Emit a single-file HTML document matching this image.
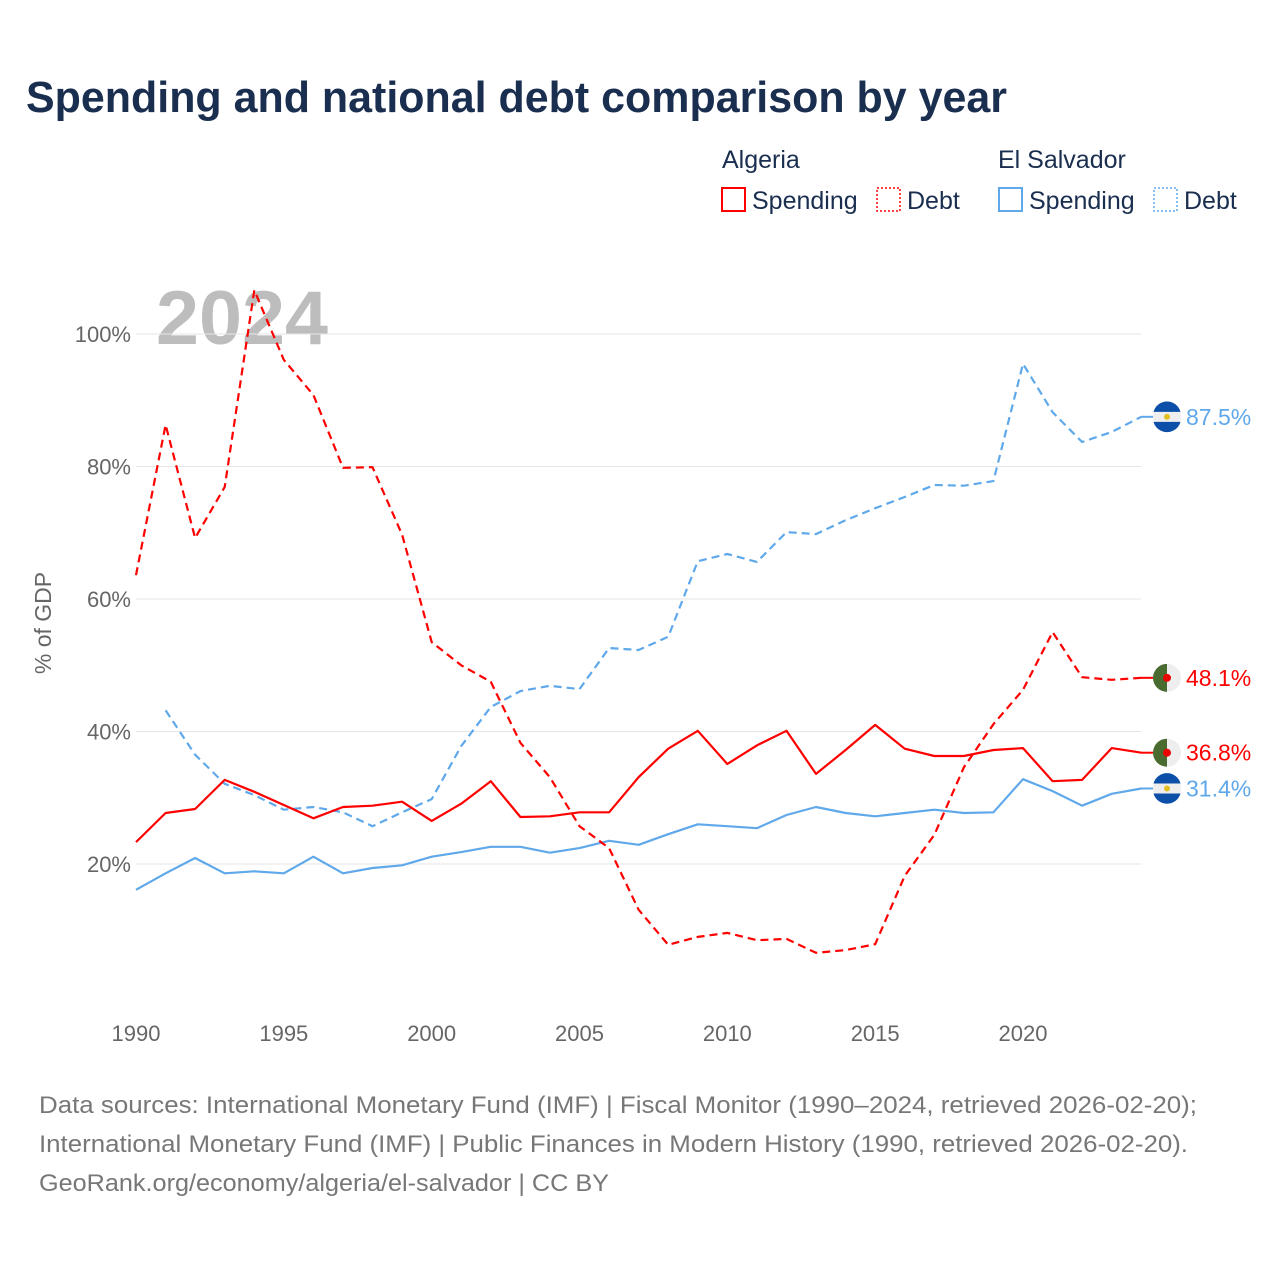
<!DOCTYPE html>
<html><head><meta charset="utf-8"><style>
body{margin:0;background:#fff;font-family:"Liberation Sans",sans-serif}
#wrap{position:relative;width:1280px;height:1280px;overflow:hidden}
</style></head><body>
<div id="wrap">
<svg id="chart" width="1280" height="1280" xmlns="http://www.w3.org/2000/svg">
<text x="26" y="112" font-size="44" font-weight="bold" fill="#1a2e4f" textLength="981" lengthAdjust="spacingAndGlyphs">Spending and national debt comparison by year</text>
<g font-size="25" fill="#1a2e4f">
<text x="722" y="168">Algeria</text>
<text x="998" y="168">El Salvador</text>
<g><rect x="722" y="188" width="23" height="23" fill="none" stroke="#ff0000" stroke-width="2"/><text x="752" y="209">Spending</text></g>
<g><rect x="877" y="188" width="23" height="23" fill="none" stroke="#ff0000" stroke-width="1.5" stroke-dasharray="2,2"/><text x="907" y="209">Debt</text></g>
<g><rect x="999" y="188" width="23" height="23" fill="none" stroke="#5fa8ea" stroke-width="2"/><text x="1029" y="209">Spending</text></g>
<g><rect x="1154" y="188" width="23" height="23" fill="none" stroke="#5fa8ea" stroke-width="1.5" stroke-dasharray="2,2"/><text x="1184" y="209">Debt</text></g>
</g>
<text x="156" y="344" font-size="76" font-weight="bold" fill="#bdbdbd" textLength="172" lengthAdjust="spacingAndGlyphs">2024</text>
<g id="grid"></g>
<g id="yaxis"></g>
<g id="xaxis"></g>
<text transform="translate(51,623) rotate(-90)" text-anchor="middle" font-size="23" fill="#666">% of GDP</text>
<g id="series"></g>
<g id="labels"></g>
<g font-size="24" fill="#777">
<text x="39" y="1113" textLength="1158" lengthAdjust="spacingAndGlyphs">Data sources: International Monetary Fund (IMF) | Fiscal Monitor (1990–2024, retrieved 2026-02-20);</text>
<text x="39" y="1152" textLength="1149" lengthAdjust="spacingAndGlyphs">International Monetary Fund (IMF) | Public Finances in Modern History (1990, retrieved 2026-02-20).</text>
<text x="39" y="1191" textLength="570" lengthAdjust="spacingAndGlyphs">GeoRank.org/economy/algeria/el-salvador | CC BY</text>
</g>
</svg>
</div>
<script>
const years=[1990,1991,1992,1993,1994,1995,1996,1997,1998,1999,2000,2001,2002,2003,2004,2005,2006,2007,2008,2009,2010,2011,2012,2013,2014,2015,2016,2017,2018,2019,2020,2021,2022,2023,2024];
const algeriaDebt=[63.6,86.3,69.2,76.9,106.6,96.1,90.8,79.8,79.9,69.7,53.5,50.0,47.5,38.3,33.1,25.7,22.4,13.1,7.8,9.0,9.6,8.5,8.7,6.6,7.0,7.9,18.2,24.4,34.6,41.1,46.3,55.0,48.2,47.8,48.1];
const algeriaSpending=[23.3,27.7,28.3,32.7,30.9,28.9,26.9,28.6,28.8,29.4,26.5,29.1,32.5,27.1,27.2,27.8,27.8,33.1,37.4,40.1,35.1,37.9,40.1,33.6,37.2,41.0,37.4,36.3,36.3,37.2,37.5,32.5,32.7,37.5,36.8];
const salvadorDebt=[null,43.2,36.5,32.1,30.4,28.2,28.6,27.8,25.7,27.8,29.8,37.8,43.7,46.1,46.9,46.4,52.6,52.3,54.3,65.7,66.8,65.6,70.1,69.8,71.9,73.7,75.4,77.2,77.1,77.8,95.5,88.2,83.7,85.2,87.5];
const salvadorSpending=[16.1,18.6,20.9,18.6,18.9,18.6,21.1,18.6,19.4,19.8,21.1,21.8,22.6,22.6,21.7,22.4,23.5,22.9,24.5,26.0,25.7,25.4,27.4,28.6,27.7,27.2,27.7,28.2,27.7,27.8,32.8,31.0,28.8,30.6,31.4];
const yTicks=[20,40,60,80,100];
const xTicks=[1990,1995,2000,2005,2010,2015,2020];

const NS="http://www.w3.org/2000/svg";
const x=v=>136+(v-1990)*(1023-136)/30;
const y=v=>996.5-v*6.625;
function mk(tag,attrs,parent){const e=document.createElementNS(NS,tag);for(const k in attrs)e.setAttribute(k,attrs[k]);parent.appendChild(e);return e;}
const grid=document.getElementById('grid'),ya=document.getElementById('yaxis'),xa=document.getElementById('xaxis');
yTicks.forEach(t=>{
 const l=mk('line',{x1:136,x2:1141,y1:y(t),y2:y(t),stroke:'#e6e6e6','stroke-width':1},grid);
 
 
 const tx=mk('text',{x:131,y:y(t)+8,'text-anchor':'end','font-size':22,fill:'#666'},ya);
 tx.textContent=t+'%';
 
 
});
xTicks.forEach(t=>{
 const tx=mk('text',{x:x(t),y:1041,'text-anchor':'middle','font-size':22,fill:'#666'},xa);
 tx.textContent=t;
 
 
});
const sg=document.getElementById('series');
function line(vals,color,dash,name){
 let d='';vals.forEach((v,i)=>{if(v==null)return;d+=(d?'L':'M')+x(years[i]).toFixed(1)+','+y(v).toFixed(1);});
 const p=mk('path',{d:d,fill:'none',stroke:color,'stroke-width':2.2,'stroke-dasharray':dash,'stroke-linejoin':'round'},sg);
 
 
}
const RED='#ff0000',BLUE='#5fa8ea';
line(salvadorSpending,BLUE,'none','line-el-salvador-spending');
line(salvadorDebt,BLUE,'8,5','line-el-salvador-debt');
line(algeriaSpending,RED,'none','line-algeria-spending');
line(algeriaDebt,RED,'8,5','line-algeria-debt');
const lg=document.getElementById('labels');
function flag(cy,type,val,color,name){
 const g=mk('g',{},lg);
 
 
 const cx=1167;
 mk('line',{x1:1141,x2:cx-14,y1:cy,y2:cy,stroke:color,'stroke-width':2},g);
 if(type==='dz'){
  mk('circle',{cx:cx,cy:cy,r:14,fill:'#eeeeee'},g);
  mk('path',{d:`M${cx},${cy-14} A14,14 0 0,0 ${cx},${cy+14} Z`,fill:'#4a6b30'},g);
  mk('circle',{cx:cx,cy:cy,r:4,fill:'#e00'},g);
 }else{
  mk('circle',{cx:cx,cy:cy,r:14,fill:'#eeeeee'},g);
  mk('path',{d:`M${cx-13.5},${cy-5} A14,14 0 0,1 ${cx+13.5},${cy-5} Z`,fill:'#0b4fa8'},g);
  mk('path',{d:`M${cx-13.5},${cy+5} A14,14 0 0,0 ${cx+13.5},${cy+5} Z`,fill:'#0b4fa8'},g);
  mk('circle',{cx:cx,cy:cy,r:3,fill:'#e0c020'},g);
 }
 const t=mk('text',{x:1186,y:cy+8,'font-size':23,fill:color},g);
 t.textContent=val.toFixed(1)+'%';
}
const last=years.length-1;
flag(y(salvadorDebt[last]),'sv',salvadorDebt[last],BLUE,'label-el-salvador-debt');
flag(y(algeriaDebt[last]),'dz',algeriaDebt[last],RED,'label-algeria-debt');
flag(y(algeriaSpending[last]),'dz',algeriaSpending[last],RED,'label-algeria-spending');
flag(y(salvadorSpending[last]),'sv',salvadorSpending[last],BLUE,'label-el-salvador-spending');
</script>
</body></html>
